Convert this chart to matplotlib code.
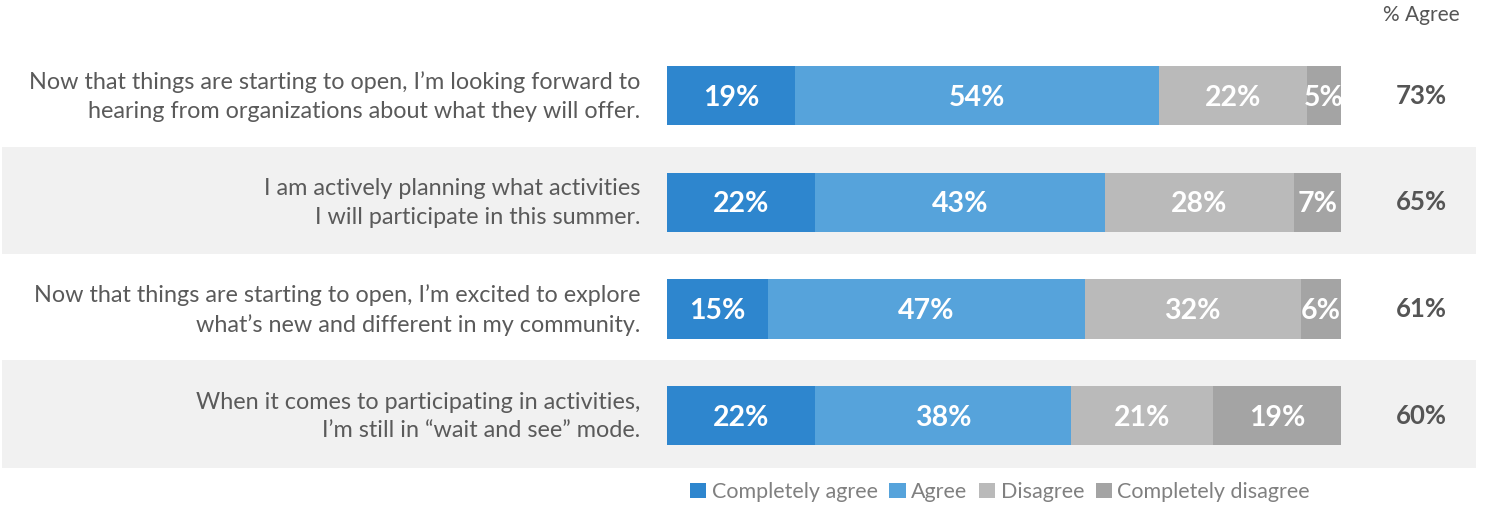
import matplotlib
matplotlib.use("Agg")
import matplotlib.pyplot as plt
from matplotlib.patches import Patch

# Survey statements and response shares (%)
statements = [
    "Now that things are starting to open, I\u2019m looking forward to\nhearing from organizations about what they will offer.",
    "I am actively planning what activities\nI will participate in this summer.",
    "Now that things are starting to open, I\u2019m excited to explore\nwhat\u2019s new and different in my community.",
    "When it comes to participating in activities,\nI\u2019m still in \u201cwait and see\u201d mode.",
]
completely_agree = [19, 22, 15, 22]
agree = [54, 43, 47, 38]
disagree = [22, 28, 32, 21]
completely_disagree = [5, 7, 6, 19]
pct_agree = [73, 65, 61, 60]

series_names = ["Completely agree", "Agree", "Disagree", "Completely disagree"]
series_colors = ["#2E86CE", "#56A3DB", "#BABABA", "#A4A4A4"]

W, H = 1487, 508
fig = plt.figure(figsize=(W / 100, H / 100), dpi=100)
ax = fig.add_axes([0, 0, 1, 1])

# Map figure pixels onto data units: 0..100 % spans x-pixels 667..1341
x0_px, x1_px = 667, 1341
ppu = (x1_px - x0_px) / 100.0
ax.set_xlim(-x0_px / ppu, (W - x0_px) / ppu)
row0_px, row_step = 95.5, 106.7
ax.set_ylim((H - row0_px) / row_step, -row0_px / row_step)
ax.axis("off")

# Alternating row shading
for i in range(len(statements)):
    if i % 2 == 1:
        ax.axhspan(i - 0.52, i + 0.49, xmin=2 / W, xmax=1476 / W,
                   color="#F1F1F1", zorder=0, lw=0)

series = [completely_agree, agree, disagree, completely_disagree]
rows = list(range(len(statements)))
left = [0] * len(statements)
for vals, color in zip(series, series_colors):
    ax.barh(rows, vals, left=left, height=0.555, color=color, lw=0, zorder=2)
    for r, (l, v) in enumerate(zip(left, vals)):
        ax.text(l + v / 2, r + 0.02, f"{v}%", ha="center", va="center",
                color="white", fontsize=20.5, fontweight="bold",
                family="Lato", zorder=3)
    left = [l + v for l, v in zip(left, vals)]

# Statement labels
label_x = (640 - x0_px) / ppu
for r, s in enumerate(statements):
    ax.text(label_x, r + 0.01, s, ha="right", va="center", color="#5A5A5A",
            fontsize=16.8, family="Lato", fontweight="normal",
            linespacing=1.45)

# Net agreement column
agree_x = (1421 - x0_px) / ppu
ax.text(agree_x, (15 - row0_px) / row_step, "% Agree", ha="center",
        va="center", color="#555555", fontsize=15, family="Lato",
        fontweight="normal")
for r, p in enumerate(pct_agree):
    ax.text(agree_x, r, f"{p}%", ha="center", va="center", color="#555555",
            fontsize=18.5, fontweight="bold", family="Lato")

handles = [Patch(facecolor=c, edgecolor="none") for c in series_colors]
leg = fig.legend(handles, series_names, loc="center",
                 bbox_to_anchor=(1000 / W, 1 - 492 / H), ncol=4,
                 frameon=False, handlelength=0.75, handleheight=0.75,
                 handletextpad=0.25, columnspacing=0.55,
                 prop={"family": "Lato", "size": 15.5, "weight": "normal"})
for t in leg.get_texts():
    t.set_color("#808080")

fig.savefig("out.png", dpi=100, facecolor="white")
